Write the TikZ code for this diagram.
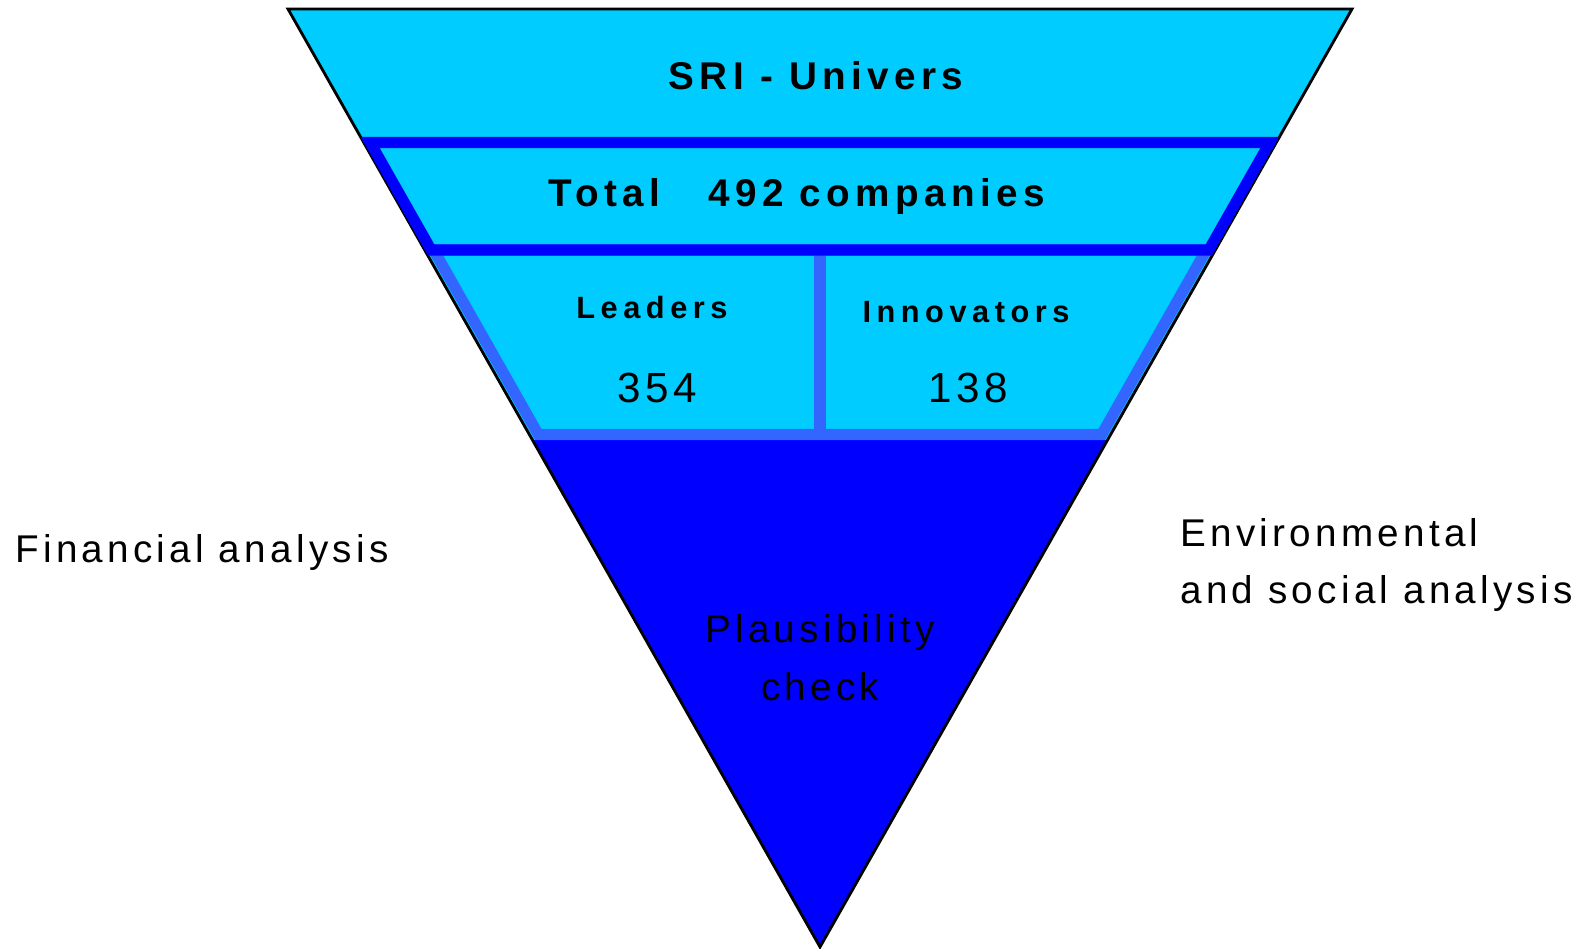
\documentclass[tikz,border=0pt]{standalone}
\usepackage{fontspec}
\setmainfont{Liberation Sans}
\newfontfamily\spaced[LetterSpace=11]{Liberation Sans}
\newfontfamily\roomy[LetterSpace=14]{Liberation Sans}
\newfontfamily\wide[LetterSpace=18]{Liberation Sans}
\definecolor{skyfill}{RGB}{0,204,255}
\definecolor{deepblue}{RGB}{0,0,255}
\definecolor{midblue}{RGB}{51,102,255}

\begin{document}
\begin{tikzpicture}[x=0.02cm,y=-0.02cm,
  band/.style={line width=6.3pt,line join=miter},
  head/.style={font=\roomy\bfseries\fontsize{22}{26}\selectfont},
  sub/.style={font=\wide\bfseries\fontsize{17.5}{21}\selectfont},
  count/.style={font=\spaced\fontsize{24}{28}\selectfont},
  side/.style={font=\spaced\fontsize{22}{33}\selectfont,align=left,inner sep=0pt}]
  \useasboundingbox (0,0) rectangle (1592,949);
  % funnel body
  \fill[skyfill] (288,9) -- (1352,9) -- (820,947) -- cycle;
  \fill[deepblue] (532.4,440) -- (1107.6,440) -- (820,947) -- cycle;
  \draw[line width=1.6pt,line join=miter] (288,9) -- (1352,9) -- (820,947) -- cycle;
  % inner bands
  \begin{scope}
    \clip (288,9) -- (1352,9) -- (820,947) -- cycle;
    \draw[band,midblue] (433.7,250) -- (1206.3,250) -- (1101.7,434.5) -- (538.3,434.5) -- cycle;
    \draw[midblue,line width=6.8pt] (820,250) -- (820,434.5);
    \draw[band,deepblue] (370.2,142.5) -- (1269.8,142.5) -- (1208.8,250) -- (431.2,250) -- cycle;
  \end{scope}
  % labels
  \node[head] (univers) at (816,76) {SRI - Univers};
  \node[head] (total) at (797,197) {Total\ \ \ 492 companies};
  \node[sub] (leaders) at (652,308) {Leaders};
  \node[count] (nlead) at (657,388) {354};
  \node[sub] (innov) at (966,312) {Innovators};
  \node[count] (ninnov) at (968,388) {138};
  \node[side,align=center] (check) at (820,658) {Plausibility\\check};
  \node[side,anchor=west] (fin) at (15,553) {Financial analysis};
  \node[side,anchor=west] (env) at (1180,565) {Environmental\\and social analysis};
\end{tikzpicture}
\end{document}
